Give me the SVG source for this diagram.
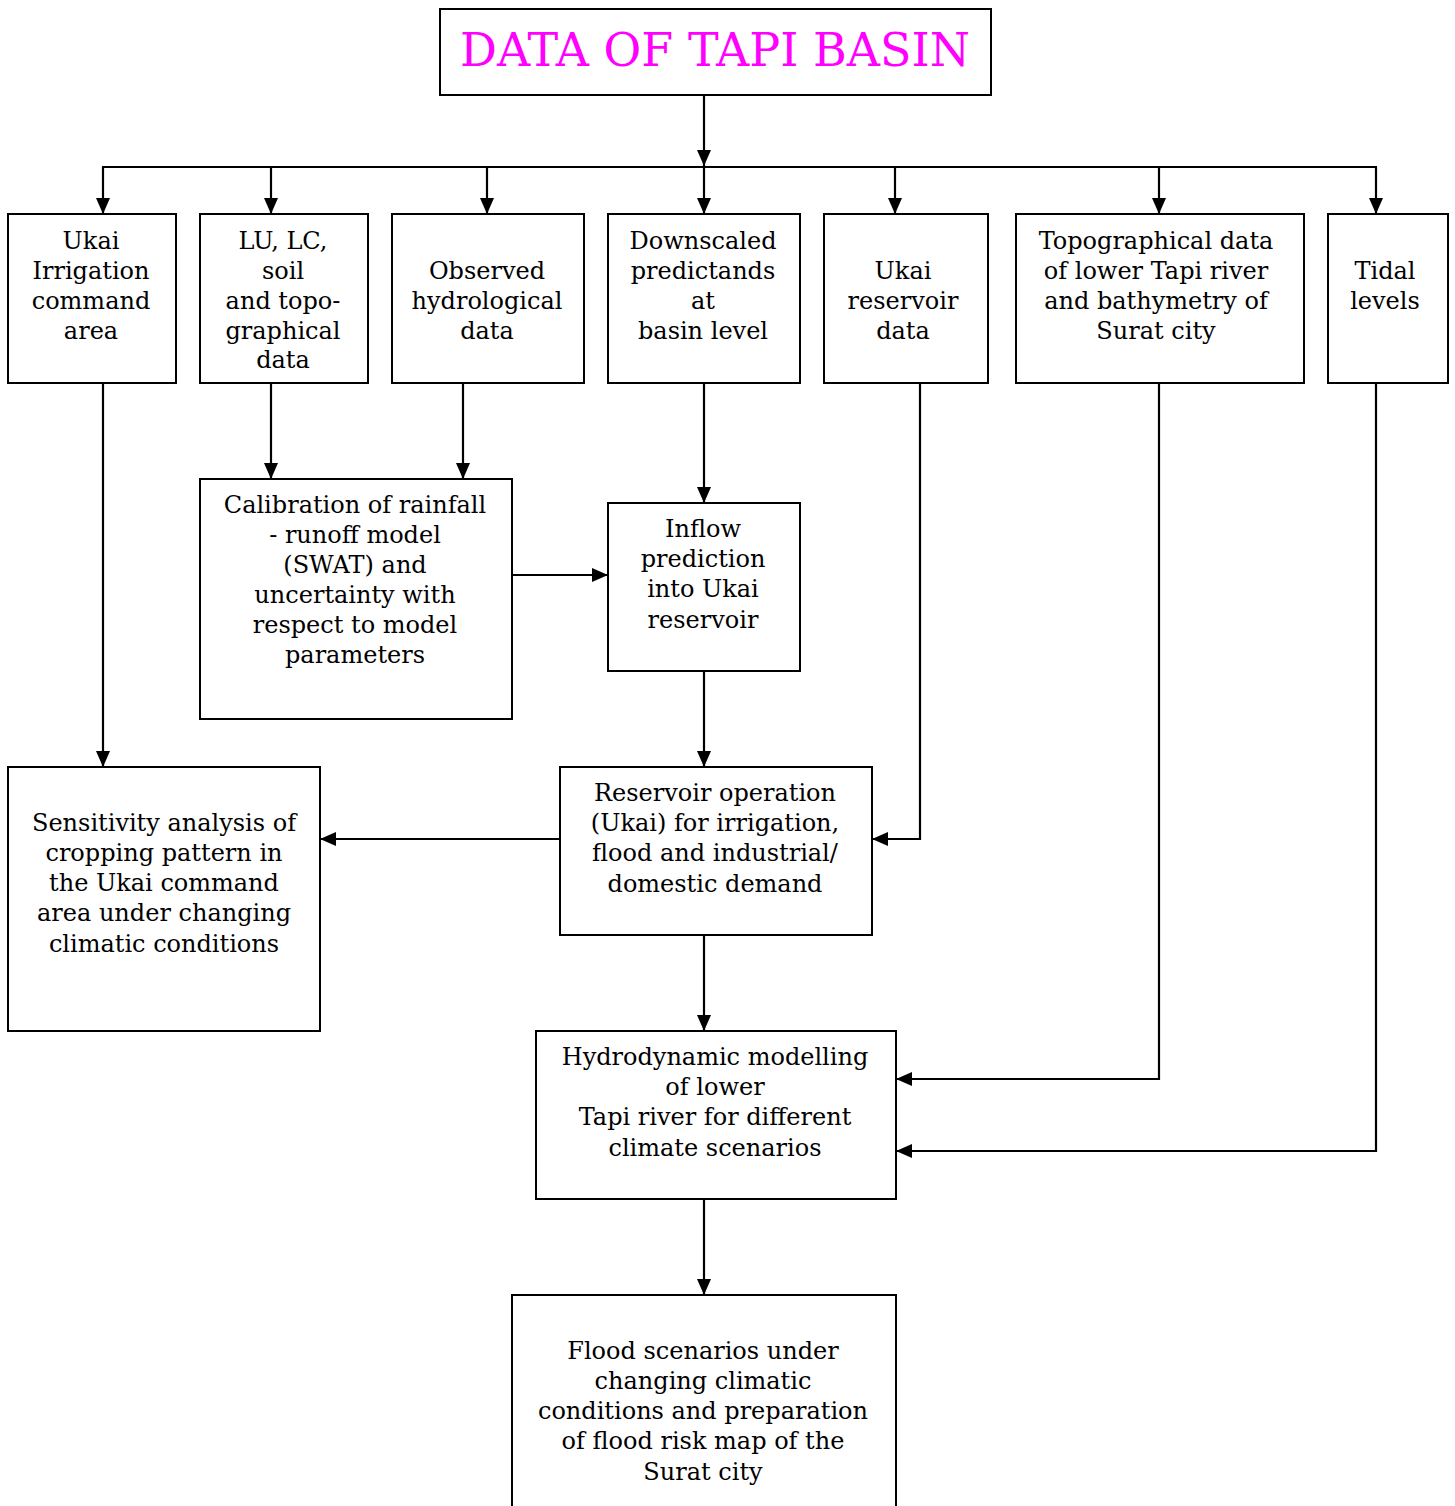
<svg xmlns="http://www.w3.org/2000/svg" width="1455" height="1506" viewBox="0 0 1455 1506">
<defs>
<style>
.box{fill:#fff;stroke:#000;stroke-width:2}
.t{font-family:"DejaVu Serif","Liberation Serif",serif;font-size:24px;fill:#000;text-anchor:middle}
.title{font-family:"DejaVu Serif","Liberation Serif",serif;font-size:46px;fill:#ff00ff;text-anchor:middle}
.c{fill:none;stroke:#000;stroke-width:2.2}
</style>
<marker id="ah" viewBox="0 0 16 14" refX="16" refY="7" markerWidth="16" markerHeight="14" markerUnits="userSpaceOnUse" orient="auto">
<path d="M0,0 L16,7 L0,14 z" fill="#000"/>
</marker>
</defs>
<rect width="1455" height="1506" fill="#fff"/>
<g id="connectors">
<line class="c" x1="704" y1="95" x2="704" y2="166" marker-end="url(#ah)"/>
<line class="c" x1="102" y1="167" x2="1377" y2="167"/>
<line class="c" x1="103" y1="167" x2="103" y2="214" marker-end="url(#ah)"/>
<line class="c" x1="271" y1="167" x2="271" y2="214" marker-end="url(#ah)"/>
<line class="c" x1="487" y1="167" x2="487" y2="214" marker-end="url(#ah)"/>
<line class="c" x1="704" y1="167" x2="704" y2="214" marker-end="url(#ah)"/>
<line class="c" x1="895" y1="167" x2="895" y2="214" marker-end="url(#ah)"/>
<line class="c" x1="1159" y1="167" x2="1159" y2="214" marker-end="url(#ah)"/>
<line class="c" x1="1376" y1="167" x2="1376" y2="214" marker-end="url(#ah)"/>
<line class="c" x1="271" y1="383" x2="271" y2="479" marker-end="url(#ah)"/>
<line class="c" x1="463" y1="383" x2="463" y2="479" marker-end="url(#ah)"/>
<line class="c" x1="704" y1="383" x2="704" y2="503" marker-end="url(#ah)"/>
<line class="c" x1="512" y1="575" x2="608" y2="575" marker-end="url(#ah)"/>
<line class="c" x1="704" y1="671" x2="704" y2="767" marker-end="url(#ah)"/>
<polyline class="c" points="920,383 920,839 872,839" marker-end="url(#ah)"/>
<line class="c" x1="103" y1="383" x2="103" y2="767" marker-end="url(#ah)"/>
<line class="c" x1="560" y1="839" x2="320" y2="839" marker-end="url(#ah)"/>
<line class="c" x1="704" y1="935" x2="704" y2="1031" marker-end="url(#ah)"/>
<polyline class="c" points="1159,383 1159,1079 896,1079" marker-end="url(#ah)"/>
<polyline class="c" points="1376,383 1376,1151 896,1151" marker-end="url(#ah)"/>
<line class="c" x1="704" y1="1199" x2="704" y2="1295" marker-end="url(#ah)"/>
</g>
<g id="title">
<rect class="box" x="440" y="9" width="551" height="86"/>
<text class="title" x="715" y="66">DATA OF TAPI BASIN</text>
</g>
<g id="ukai-irrigation">
<rect class="box" x="8" y="214" width="168" height="169"/>
<text class="t" x="91" y="249">Ukai</text>
<text class="t" x="91" y="279">Irrigation</text>
<text class="t" x="91" y="309">command</text>
<text class="t" x="91" y="339">area</text>
</g>
<g id="lulc">
<rect class="box" x="200" y="214" width="168" height="169"/>
<text class="t" x="283" y="249">LU, LC,</text>
<text class="t" x="283" y="279">soil</text>
<text class="t" x="283" y="309">and topo-</text>
<text class="t" x="283" y="339">graphical</text>
<text class="t" x="283" y="368">data</text>
</g>
<g id="observed">
<rect class="box" x="392" y="214" width="192" height="169"/>
<text class="t" x="487" y="279">Observed</text>
<text class="t" x="487" y="309">hydrological</text>
<text class="t" x="487" y="339">data</text>
</g>
<g id="downscaled">
<rect class="box" x="608" y="214" width="192" height="169"/>
<text class="t" x="703" y="249">Downscaled</text>
<text class="t" x="703" y="279">predictands</text>
<text class="t" x="703" y="309">at</text>
<text class="t" x="703" y="339">basin level</text>
</g>
<g id="ukai-reservoir">
<rect class="box" x="824" y="214" width="164" height="169"/>
<text class="t" x="903" y="279">Ukai</text>
<text class="t" x="903" y="309">reservoir</text>
<text class="t" x="903" y="339">data</text>
</g>
<g id="topographical">
<rect class="box" x="1016" y="214" width="288" height="169"/>
<text class="t" x="1156" y="249">Topographical data</text>
<text class="t" x="1156" y="279">of lower Tapi river</text>
<text class="t" x="1156" y="309">and bathymetry of</text>
<text class="t" x="1156" y="339">Surat city</text>
</g>
<g id="tidal">
<rect class="box" x="1328" y="214" width="120" height="169"/>
<text class="t" x="1385" y="279">Tidal</text>
<text class="t" x="1385" y="309">levels</text>
</g>
<g id="calibration">
<rect class="box" x="200" y="479" width="312" height="240"/>
<text class="t" x="355" y="513">Calibration of rainfall</text>
<text class="t" x="355" y="543">- runoff model</text>
<text class="t" x="355" y="573">(SWAT) and</text>
<text class="t" x="355" y="603">uncertainty with</text>
<text class="t" x="355" y="633">respect to model</text>
<text class="t" x="355" y="663">parameters</text>
</g>
<g id="inflow">
<rect class="box" x="608" y="503" width="192" height="168"/>
<text class="t" x="703" y="537">Inflow</text>
<text class="t" x="703" y="567">prediction</text>
<text class="t" x="703" y="597">into Ukai</text>
<text class="t" x="703" y="628">reservoir</text>
</g>
<g id="reservoir-operation">
<rect class="box" x="560" y="767" width="312" height="168"/>
<text class="t" x="715" y="801">Reservoir operation</text>
<text class="t" x="715" y="831">(Ukai) for irrigation,</text>
<text class="t" x="715" y="861">flood and industrial/</text>
<text class="t" x="715" y="892">domestic demand</text>
</g>
<g id="sensitivity">
<rect class="box" x="8" y="767" width="312" height="264"/>
<text class="t" x="164" y="831">Sensitivity analysis of</text>
<text class="t" x="164" y="861">cropping pattern in</text>
<text class="t" x="164" y="891">the Ukai command</text>
<text class="t" x="164" y="921">area under changing</text>
<text class="t" x="164" y="952">climatic conditions</text>
</g>
<g id="hydrodynamic">
<rect class="box" x="536" y="1031" width="360" height="168"/>
<text class="t" x="715" y="1065">Hydrodynamic modelling</text>
<text class="t" x="715" y="1095">of lower</text>
<text class="t" x="715" y="1125">Tapi river for different</text>
<text class="t" x="715" y="1156">climate scenarios</text>
</g>
<g id="flood">
<rect class="box" x="512" y="1295" width="384" height="230"/>
<text class="t" x="703" y="1359">Flood scenarios under</text>
<text class="t" x="703" y="1389">changing climatic</text>
<text class="t" x="703" y="1419">conditions and preparation</text>
<text class="t" x="703" y="1449">of flood risk map of the</text>
<text class="t" x="703" y="1480">Surat city</text>
</g>
</svg>
